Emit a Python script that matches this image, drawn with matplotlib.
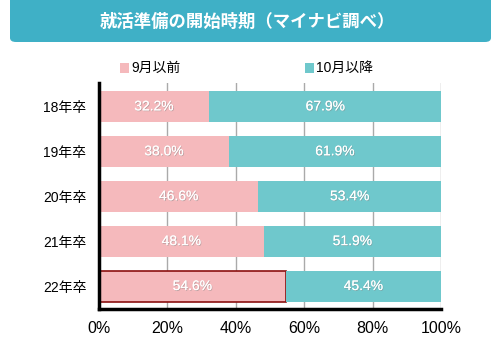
import matplotlib
matplotlib.use("Agg")
import matplotlib.pyplot as plt
from matplotlib.patches import FancyBboxPatch, Rectangle
import matplotlib.patheffects as pe

plt.rcParams['font.family'] = ['Liberation Sans', 'Noto Sans CJK JP', 'DejaVu Sans']

title = "就活準備の開始時期（マイナビ調べ）"
categories = ["18年卒", "19年卒", "20年卒", "21年卒", "22年卒"]
before_sep = [32.2, 38.0, 46.6, 48.1, 54.6]
after_oct = [67.9, 61.9, 53.4, 51.9, 45.4]
series_names = ["9月以前", "10月以降"]
xticks = [0, 20, 40, 60, 80, 100]
xtick_labels = ["0%", "20%", "40%", "60%", "80%", "100%"]

pink = "#f5b9bc"
teal = "#6fc8cc"
banner = "#3fb0c6"

W, H = 500, 346
fig = plt.figure(figsize=(W / 100, H / 100), dpi=100)
fig.patch.set_facecolor("white")

# Title banner
box = FancyBboxPatch((10 / W, 1 - 42 / H), 481 / W, 60 / H,
                     boxstyle="round,pad=0,rounding_size=0.012",
                     transform=fig.transFigure, facecolor=banner,
                     edgecolor="none", zorder=1)
fig.patches.append(box)
fig.text(247 / W, 1 - 22 / H, title, color="white", fontsize=12.5,
         fontweight="bold", ha="center", va="center",
         family=['Noto Sans CJK JP', 'DejaVu Sans'])

ax = fig.add_axes([99 / W, (H - 308.5) / H, 342 / W, (308.5 - 83) / H])
ypos = list(range(len(categories)))
bh = 0.69
bars1 = ax.barh(ypos, before_sep, height=bh, color=pink, zorder=3)
bars2 = ax.barh(ypos, after_oct, left=before_sep, height=bh, color=teal, zorder=3)
bars1[-1].set_edgecolor("#8b1010")
bars1[-1].set_linewidth(1.2)

shadow = [pe.withSimplePatchShadow(offset=(0.6, -0.6), shadow_rgbFace="#888888", alpha=0.5), pe.Normal()]
for i in ypos:
    ax.text(before_sep[i] / 2, i, f"{before_sep[i]:.1f}%",
            color="white", fontsize=10, ha="center", va="center", zorder=4,
            path_effects=shadow)
    ax.text(before_sep[i] + after_oct[i] / 2, i, f"{after_oct[i]:.1f}%",
            color="white", fontsize=10, ha="center", va="center", zorder=4,
            path_effects=shadow)

ax.set_xlim(0, 100)
ax.set_ylim(4.5, -0.52)
ax.set_yticks(ypos)
ax.set_yticklabels(categories, fontsize=10)
ax.set_xticks(xticks)
ax.set_xticklabels(xtick_labels, fontsize=11.5)
ax.tick_params(axis="both", length=0, pad=9)
ax.tick_params(axis="x", pad=9)
ax.grid(axis="x", color="#aaaaaa", linewidth=1, zorder=0)
for s in ["top", "right"]:
    ax.spines[s].set_visible(False)
ax.spines["left"].set_linewidth(2.5)
ax.spines["bottom"].set_linewidth(2.5)
ax.spines["left"].set_zorder(5)
ax.spines["bottom"].set_zorder(5)

# Legend
fig.patches.append(Rectangle((120 / W, 1 - 73 / H), 9 / W, 10 / H,
                             transform=fig.transFigure, facecolor=pink, edgecolor="none"))
fig.text(131 / W, 1 - 68 / H, series_names[0], fontsize=10, ha="left", va="center")
fig.patches.append(Rectangle((305 / W, 1 - 73 / H), 9 / W, 10 / H,
                             transform=fig.transFigure, facecolor=teal, edgecolor="none"))
fig.text(316 / W, 1 - 68 / H, series_names[1], fontsize=10, ha="left", va="center")

fig.savefig("out.png", dpi=100)
